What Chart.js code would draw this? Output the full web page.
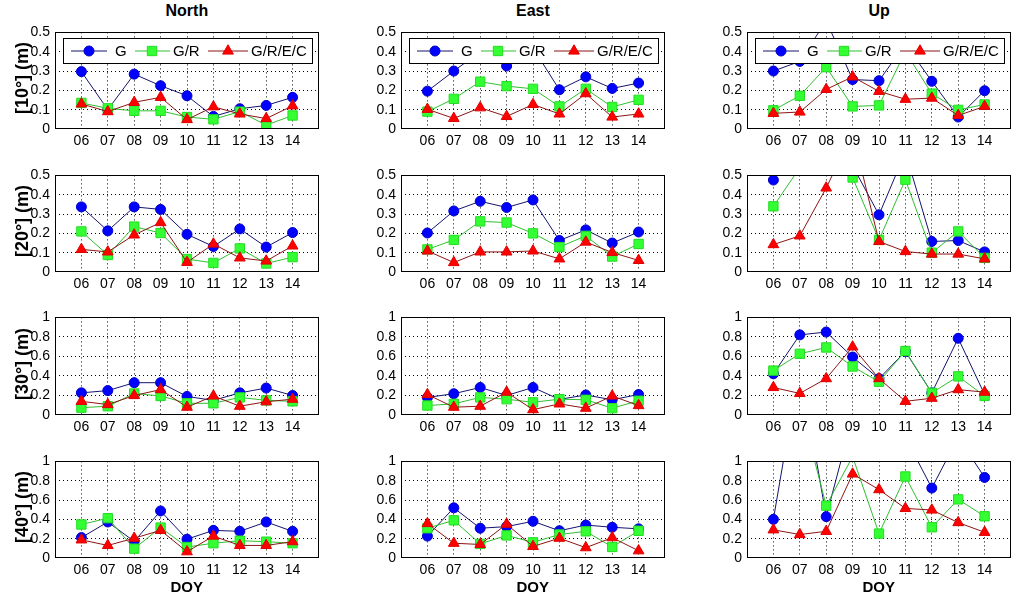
<!DOCTYPE html>
<html><head><meta charset="utf-8">
<script src="https://cdn.jsdelivr.net/npm/chart.js@4"></script>
<style>
html,body{margin:0;padding:0;background:#fff}
body{width:1024px;height:600px;position:relative;overflow:hidden;font-family:"Liberation Sans",Arial,sans-serif}
canvas{position:absolute}
.t{position:absolute;font-weight:bold;color:#000;white-space:nowrap;line-height:1}
</style></head><body>
<script>
const FONT='"Liberation Sans", Arial, sans-serif';
// categories
const days=[6,7,8,9,10,11,12,13,14];
const dayLabels=['06','07','08','09','10','11','12','13','14'];
const seriesNames=['G','G/R','G/R/E/C'];
const colTitles=['North','East','Up'];
const rowLabels=['[10\u00b0] (m)','[20\u00b0] (m)','[30\u00b0] (m)','[40\u00b0] (m)'];
const xLabel='DOY';
// y tick labels
const yTicksHalf=['0','0.1','0.2','0.3','0.4','0.5'];
const yTicksOne=['0','0.2','0.4','0.6','0.8','1'];

// 10 deg
const north10_G   =[0.297,0.100,0.284,0.224,0.172,0.065,0.105,0.122,0.164];
const north10_GR  =[0.135,0.107,0.094,0.094,0.062,0.050,0.090,0.020,0.070];
const north10_GREC=[0.130,0.090,0.138,0.164,0.049,0.115,0.078,0.054,0.120];
const east10_G    =[0.196,0.300,0.400,0.326,0.420,0.203,0.270,0.210,0.238];
const east10_GR   =[0.090,0.156,0.245,0.222,0.208,0.117,0.208,0.114,0.151];
const east10_GREC =[0.102,0.055,0.110,0.065,0.127,0.078,0.183,0.062,0.078];
const up10_G      =[0.300,0.350,0.560,0.256,0.250,0.440,0.247,0.062,0.198];
const up10_GR     =[0.097,0.172,0.320,0.117,0.122,0.400,0.183,0.099,0.127];
const up10_GREC   =[0.081,0.088,0.205,0.270,0.195,0.154,0.160,0.070,0.117];
// 20 deg
const north20_G   =[0.337,0.213,0.337,0.324,0.195,0.132,0.223,0.129,0.204];
const north20_GR  =[0.210,0.088,0.235,0.202,0.067,0.047,0.122,0.044,0.077];
const north20_GREC=[0.117,0.104,0.192,0.256,0.050,0.145,0.073,0.057,0.135];
const east20_G    =[0.202,0.316,0.366,0.334,0.373,0.163,0.218,0.150,0.207];
const east20_GR   =[0.117,0.166,0.262,0.256,0.200,0.129,0.187,0.080,0.145];
const east20_GREC =[0.109,0.049,0.104,0.104,0.109,0.068,0.155,0.101,0.060];
const up20_G      =[0.476,0.800,0.900,0.550,0.296,0.620,0.158,0.163,0.104];
const up20_GR     =[0.340,0.540,0.650,0.489,0.166,0.478,0.100,0.210,0.073];
const up20_GREC   =[0.142,0.187,0.435,0.720,0.158,0.106,0.093,0.093,0.068];
// 30 deg
const north30_G   =[0.227,0.250,0.331,0.331,0.190,0.150,0.227,0.276,0.200];
const north30_GR  =[0.075,0.090,0.220,0.195,0.120,0.120,0.180,0.150,0.140];
const north30_GREC=[0.140,0.107,0.200,0.260,0.080,0.195,0.090,0.136,0.162];
const east30_G    =[0.180,0.218,0.282,0.200,0.282,0.160,0.205,0.156,0.210];
const east30_GR   =[0.097,0.114,0.180,0.162,0.130,0.162,0.156,0.070,0.146];
const east30_GREC =[0.210,0.080,0.090,0.234,0.055,0.114,0.070,0.195,0.097];
const up30_G      =[0.422,0.821,0.850,0.594,0.373,0.650,0.227,0.786,0.210];
const up30_GR     =[0.455,0.627,0.692,0.497,0.341,0.656,0.227,0.396,0.195];
const up30_GREC   =[0.282,0.221,0.373,0.698,0.373,0.140,0.172,0.260,0.234];
// 40 deg
const north40_G   =[0.211,0.373,0.172,0.487,0.195,0.286,0.276,0.373,0.276];
const north40_GR  =[0.347,0.412,0.097,0.315,0.114,0.153,0.179,0.169,0.153];
const north40_GREC=[0.188,0.130,0.205,0.286,0.065,0.227,0.130,0.130,0.169];
const east40_G    =[0.227,0.519,0.308,0.325,0.380,0.282,0.341,0.318,0.302];
const east40_GR   =[0.308,0.390,0.146,0.234,0.162,0.243,0.276,0.114,0.282];
const east40_GREC =[0.357,0.153,0.140,0.350,0.120,0.205,0.107,0.211,0.075];
const up40_G      =[0.400,2.000,0.428,1.460,1.500,1.250,0.724,1.250,0.834];
const up40_GR     =[1.300,1.600,0.542,1.050,0.253,0.844,0.318,0.607,0.432];
const up40_GREC   =[0.292,0.243,0.276,0.870,0.708,0.513,0.497,0.367,0.266];

const panels=[
  [[north10_G,north10_GR,north10_GREC],[east10_G,east10_GR,east10_GREC],[up10_G,up10_GR,up10_GREC]],
  [[north20_G,north20_GR,north20_GREC],[east20_G,east20_GR,east20_GREC],[up20_G,up20_GR,up20_GREC]],
  [[north30_G,north30_GR,north30_GREC],[east30_G,east30_GR,east30_GREC],[up30_G,up30_GR,up30_GREC]],
  [[north40_G,north40_GR,north40_GREC],[east40_G,east40_GR,east40_GREC],[up40_G,up40_GR,up40_GREC]]
];
const rowYMax=[0.5,0.5,1,1];
const rowYStep=[0.1,0.1,0.2,0.2];
const rowYTicks=[yTicksHalf,yTicksHalf,yTicksOne,yTicksOne];

// layout (plot-area rectangles)
const colLeft=[55,401,747], plotW=264;
const rowTop=[27,170,312,456], rowH=[102,102,103,102];
const PADL=55, PADT=8, PADR=8, PADB=22;

// styles
const styles=[
  {line:'#14146e',fill:'#0000ff',stroke:'#0000c8',pt:'circle',r:5},
  {line:'#2fbf2f',fill:'#33ff33',stroke:'#22dd22',pt:'rect',r:6.6},
  {line:'#8c1414',fill:'#ff0000',stroke:'#e00000',pt:'triangle',r:6.2}
];

function drawMarker(ctx,s,x,y){
  ctx.fillStyle=s.fill;ctx.strokeStyle=s.stroke;ctx.lineWidth=1;
  ctx.beginPath();
  if(s.pt==='circle'){ctx.arc(x,y,s.r,0,Math.PI*2);}
  else if(s.pt==='rect'){const h=s.r*Math.SQRT1_2;ctx.rect(x-h,y-h,2*h,2*h);}
  else{const r=s.r;ctx.moveTo(x,y-r);ctx.lineTo(x+r*0.866,y+r*0.5);ctx.lineTo(x-r*0.866,y+r*0.5);ctx.closePath();}
  ctx.fill();ctx.stroke();
}

const boxPlugin={
  id:'boxPlugin',
  afterDatasetsDraw(chart,args,opts){
    const ctx=chart.ctx,a=chart.chartArea;
    ctx.save();
    ctx.strokeStyle='#000';ctx.lineWidth=1;
    ctx.strokeRect(Math.round(a.left)+0.5,Math.round(a.top)+0.5,Math.round(a.right-a.left)-1,Math.round(a.bottom-a.top)-1);
    if(opts.legend){
      const x=Math.round(a.left)+8,y=Math.round(a.top)+6,w=249,h=25;
      ctx.fillStyle='#fff';ctx.fillRect(x,y,w,h);
      ctx.strokeRect(x+0.5,y+0.5,w,h);
      const items=[{l0:8,l1:44,m:26,t:52},{l0:72,l1:107,m:89,t:110},{l0:145,l1:185,m:165,t:188}];
      const cy=y+h/2+0.5;
      ctx.font='15px '+FONT;ctx.textBaseline='middle';ctx.textAlign='left';
      items.forEach((it,i)=>{
        const s=styles[i];
        ctx.strokeStyle=s.line;ctx.lineWidth=1;
        ctx.beginPath();ctx.moveTo(x+it.l0,cy);ctx.lineTo(x+it.l1,cy);ctx.stroke();
        drawMarker(ctx,s,x+it.m,cy);
        ctx.fillStyle='#000';ctx.fillText(seriesNames[i],x+it.t,cy+1);
      });
    }
    ctx.restore();
  }
};

function addText(txt,cx,cy,size,rot){
  const d=document.createElement('div');
  d.className='t';d.textContent=txt;d.style.fontSize=size+'px';
  document.body.appendChild(d);
  const w=d.offsetWidth,h=d.offsetHeight;
  d.style.left=(cx-w/2)+'px';d.style.top=(cy-h/2)+'px';
  if(rot)d.style.transform='rotate(-90deg)';
}

for(let r=0;r<4;r++){
  for(let c=0;c<3;c++){
    const cv=document.createElement('canvas');
    const W=PADL+plotW+PADR,H=PADT+rowH[r]+PADB;
    cv.width=W;cv.height=H;cv.style.width=W+'px';cv.style.height=H+'px';
    cv.style.left=(colLeft[c]-PADL)+'px';cv.style.top=(rowTop[r]-PADT)+'px';
    document.body.appendChild(cv);
    const data=panels[r][c];
    const datasets=data.map((vals,i)=>({
      label:seriesNames[i],
      data:days.map((d,k)=>({x:d,y:vals[k]})),
      borderColor:styles[i].line,borderWidth:1,
      pointStyle:styles[i].pt,pointRadius:styles[i].r,
      pointBackgroundColor:styles[i].fill,pointBorderColor:styles[i].stroke,pointBorderWidth:1,
      tension:0,order:3-i
    }));
    const yTicks=rowYTicks[r];
    new Chart(cv,{
      type:'line',
      data:{datasets},
      options:{
        responsive:false,animation:false,devicePixelRatio:1,
        layout:{padding:{left:0,top:PADT,right:PADR,bottom:0}},
        plugins:{legend:{display:false},tooltip:{enabled:false},boxPlugin:{legend:r===0}},
        scales:{
          x:{type:'linear',min:5,max:15,
            afterFit(s){s.height=PADB;},
            ticks:{stepSize:1,autoSkip:false,maxRotation:0,color:'#000',padding:4,font:{size:14,family:FONT},
              callback:(v)=>{const i=days.indexOf(v);return i<0?'':dayLabels[i];}},
            grid:{color:(ctx)=>(ctx.index===0||ctx.index===10)?'rgba(0,0,0,0)':'#000',drawTicks:false,lineWidth:1},
            border:{display:false,dash:[1,3]}},
          y:{min:0,max:rowYMax[r],
            afterFit(s){s.width=PADL;},
            ticks:{stepSize:rowYStep[r],autoSkip:false,color:'#000',padding:5,font:{size:14,family:FONT},
              callback:(v,i)=>yTicks[i]},
            grid:{color:(ctx)=>(ctx.index===0||ctx.index===5)?'rgba(0,0,0,0)':'#000',drawTicks:false,lineWidth:1},
            border:{display:false,dash:[1,3]}}
        }
      },
      plugins:[boxPlugin]
    });
  }
}
for(let c=0;c<3;c++){
  addText(colTitles[c],colLeft[c]+plotW/2,11,16,false);
  addText(xLabel,colLeft[c]+plotW/2,586,15,false);
}
for(let r=0;r<4;r++){
  addText(rowLabels[r],22,rowTop[r]+rowH[r]/2,18,true);
}
</script>
</body></html>
